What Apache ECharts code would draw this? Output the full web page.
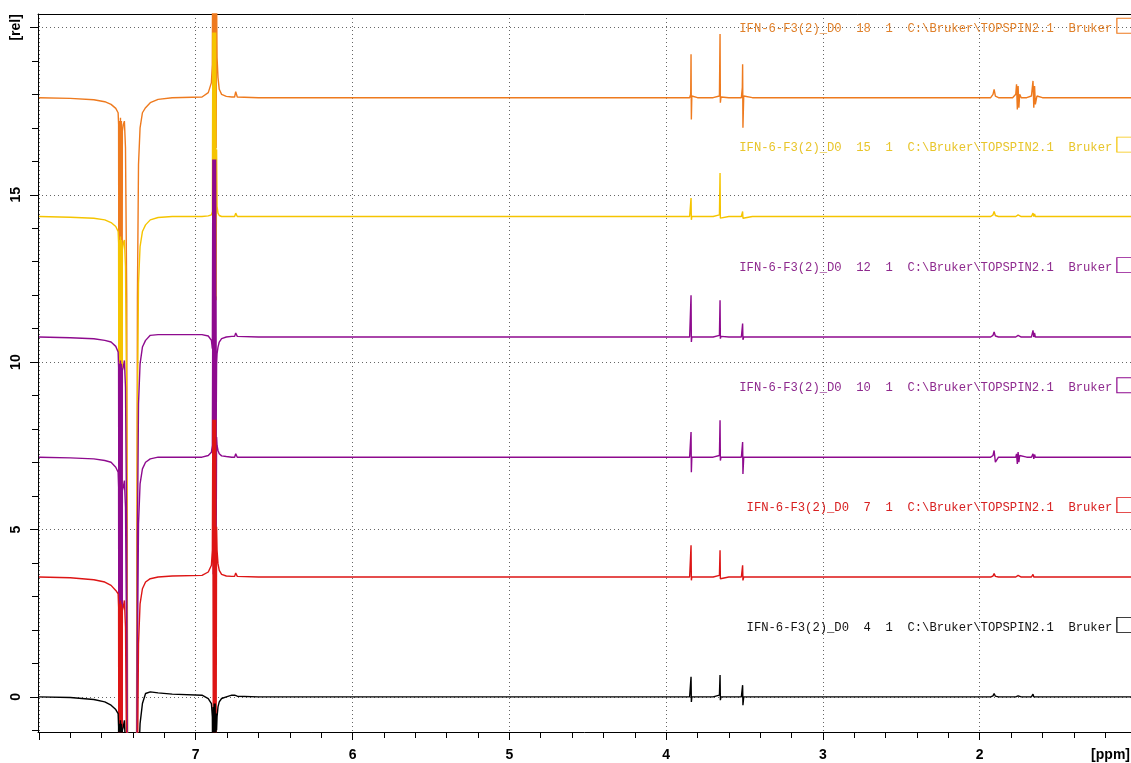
<!DOCTYPE html>
<html>
<head>
<meta charset="utf-8">
<title>IFN-6-F3(2) spectra</title>
<script src="https://cdn.jsdelivr.net/npm/echarts@6.0.0/dist/echarts.min.js"></script>
<style>
  html, body { margin: 0; padding: 0; background: #fff; }
  #chart { width: 1131px; height: 763px; }
</style>
</head>
<body>
<div id="chart"></div>
<script>
// chemical shift positions (ppm), shared by all spectra
const ppm = [
  8.00, 7.80, 7.65, 7.58, 7.54, 7.51, 7.495,
  7.492, 7.489, 7.486, 7.483, 7.480, 7.477, 7.474, 7.471, 7.468,
  7.462, 7.455, 7.448, 7.440, 7.432, 7.380, 7.372, 7.365, 7.355, 7.340, 7.320, 7.290, 7.240, 7.150,
  6.960, 6.920, 6.900, 6.894, 6.891, 6.888, 6.885, 6.882, 6.879, 6.876, 6.873, 6.870, 6.867, 6.864, 6.858, 6.850, 6.835, 6.805, 6.770,
  6.752, 6.745, 6.735, 6.600, 5.500, 4.500, 3.900,
  3.850, 3.843, 3.841, 3.839, 3.836, 3.800, 3.700, 3.660, 3.656, 3.654, 3.650, 3.600, 3.520, 3.514, 3.512, 3.510, 3.505, 3.450, 3.000, 2.000,
  1.930, 1.915, 1.908, 1.900, 1.880, 1.790, 1.770, 1.765, 1.760, 1.755, 1.750, 1.745, 1.735, 1.700, 1.670, 1.660, 1.655, 1.650, 1.645, 1.635, 1.600, 1.000
];

// intensities relative to each spectrum's own baseline
const spec18 = [
  0, -0.02, -0.06, -0.12, -0.2, -0.32, -0.45,
  -0.8, -12, -0.7, -12, -0.6, -12, -0.7, -12, -1.0,
  -0.8, -0.7, -1.5, -6, -25, -25, -6, -2, -0.9, -0.45, -0.3, -0.15, -0.05, 0,
  0.02, 0.15, 0.45, 1.0, 6, -2, 6, -2, 6, -2, 6, -1.5, 3, 1.2, 0.6, 0.25, 0.1, 0.04, 0.02,
  0.02, 0.18, 0.02, 0, 0, 0, 0,
  0, 0.1, 1.3, -0.65, 0.05, 0, 0, 0.05, 1.9, -0.15, 0.02, 0, 0, 0.3, 1.0, -0.9, 0.05, 0, 0, 0,
  0, 0.1, 0.25, 0.05, 0, 0, 0.1, 0.4, -0.35, 0.35, -0.3, 0.1, 0, 0, 0.05, 0.5, -0.3, 0.35, -0.2, 0.05, 0, 0
];
const spec15 = [
  0, -0.02, -0.05, -0.1, -0.18, -0.3, -0.45,
  -0.8, -12, -0.7, -12, -0.6, -12, -0.7, -12, -1.0,
  -0.8, -0.7, -1.5, -6, -25, -25, -6, -2, -0.9, -0.45, -0.25, -0.1, -0.03, 0,
  0, 0.02, 0.05, 0.15, 5.5, -2.5, 5.5, -3, 5.5, -3, 5.5, -2.5, 2, 0.3, 0.1, 0.03, 0, 0, 0,
  0, 0.1, 0, 0, 0, 0, 0,
  0, 0.05, 0.55, -0.1, 0, 0, 0, 0.05, 1.3, -0.05, 0, 0, 0, 0.05, 0.15, -0.05, 0, 0, 0, 0,
  0, 0.05, 0.15, 0.03, 0, 0, 0, 0.05, 0, 0.05, 0, 0, 0, 0, 0, 0.1, 0, 0.08, 0, 0, 0, 0
];
const spec12 = [
  0, -0.02, -0.05, -0.1, -0.15, -0.28, -0.45,
  -0.9, -12, -0.8, -12, -0.7, -12, -0.8, -12, -1.0,
  -0.9, -0.7, -1.5, -6, -25, -25, -6, -2, -0.8, -0.3, -0.1, 0.05, 0.07, 0.07,
  0.07, 0.03, -0.1, -0.35, 5.3, -3, 5.3, -4, 5.3, -4, 5.3, -3, -0.8, -0.5, -0.3, -0.15, -0.05, 0, 0.02,
  0.02, 0.12, 0.02, 0, 0, 0, 0,
  0, 0.05, 1.25, -0.15, 0, 0, 0, 0.05, 1.1, -0.05, 0.02, 0, 0, 0.05, 0.4, -0.08, 0, 0, 0, 0,
  0, 0.05, 0.15, 0.03, 0, 0, 0, 0.05, 0, 0.05, 0, 0, 0, 0, 0, 0.2, 0, 0.12, 0, 0, 0, 0
];
const spec10 = [
  0, -0.02, -0.05, -0.1, -0.15, -0.3, -0.45,
  -0.9, -12, -0.8, -12, -0.7, -12, -0.8, -12, -1.0,
  -0.9, -0.7, -1.5, -6, -25, -25, -6, -2, -0.8, -0.35, -0.15, -0.05, 0, 0,
  0, 0.05, 0.15, 0.35, 4.8, -3.5, 4.8, -4, 4.8, -4, 4.8, -3, 0.6, 0.35, 0.2, 0.1, 0.04, 0.02, 0,
  0, 0.1, 0, 0, 0, 0, 0,
  0, 0.05, 0.75, -0.45, 0, 0, 0, 0.05, 1.1, -0.1, 0, 0, 0, 0.05, 0.45, -0.5, 0, 0, 0, 0,
  0, 0.05, 0.2, -0.15, 0, 0, 0, 0.1, -0.2, 0.15, -0.15, 0.05, 0, 0, 0, 0.1, -0.05, 0.08, 0, 0, 0, 0
];
const spec7 = [
  0, -0.02, -0.08, -0.15, -0.25, -0.4, -0.5,
  -0.9, -12, -0.8, -12, -0.7, -12, -0.8, -12, -1.0,
  -0.9, -0.7, -1.5, -6, -25, -25, -6, -2, -0.8, -0.35, -0.15, -0.05, 0, 0.03,
  0.05, 0.15, 0.35, 0.8, 4.7, -4.8, 4.7, -5, 4.7, -5, 4.7, -4.8, 1.5, 0.8, 0.4, 0.2, 0.08, 0.03, 0.02,
  0.02, 0.12, 0.02, 0, 0, 0, 0,
  0, 0.05, 0.95, -0.1, 0, 0, 0, 0.05, 0.8, -0.05, 0, 0, 0, 0.05, 0.35, -0.1, 0, 0, 0, 0,
  0, 0.03, 0.1, 0.02, 0, 0, 0, 0.03, 0, 0.05, 0, 0, 0, 0, 0, 0.08, 0, 0.05, 0, 0, 0, 0
];
const spec4 = [
  0, -0.02, -0.08, -0.15, -0.25, -0.38, -0.5,
  -0.9, -12, -0.8, -12, -0.7, -12, -0.8, -12, -1.0,
  -0.9, -0.7, -1.5, -6, -25, -25, -6, -2, -0.8, -0.2, 0.1, 0.15, 0.12, 0.08,
  0.05, -0.05, -0.2, -0.6, -3, -0.3, -3, -0.2, -3, -0.2, -3, -0.5, -1.0, -0.6, -0.3, -0.15, -0.05, 0, 0.05,
  0.05, 0.1, 0.02, 0, 0, 0, 0,
  0, 0.05, 0.6, -0.15, 0, 0, 0, 0.05, 0.65, -0.1, 0, 0, 0, 0.05, 0.35, -0.25, 0, 0, 0, 0,
  0, 0.03, 0.1, 0.02, 0, 0, 0, 0.03, 0.05, 0.03, 0, 0, 0, 0, 0, 0.08, 0, 0.05, 0, 0, 0, 0
];

// stacking offsets (rel) and experiment numbers, top spectrum first
const baselines = [17.9, 14.35, 10.75, 7.16, 3.58, 0];
const expNumbers = ['18', '15', '12', '10', '7', '4'];
const spectra = [spec18, spec15, spec12, spec10, spec7, spec4];

// tick values
const xMajorTicks = [2, 3, 4, 5, 6, 7, 8];
const xLabelTicks = [2, 3, 4, 5, 6, 7];
const xMinorTicks = [1.2, 1.4, 1.6, 1.8, 2.2, 2.4, 2.6, 2.8, 3.2, 3.4, 3.6, 3.8, 4.2, 4.4, 4.6, 4.8,
                     5.2, 5.4, 5.6, 5.8, 6.2, 6.4, 6.6, 6.8, 7.2, 7.4, 7.6, 7.8];
const yMajorTicks = [0, 5, 10, 15, 20];
const yMinorTicks = [-1, 1, 2, 3, 4, 6, 7, 8, 9, 11, 12, 13, 14, 16, 17, 18, 19];

const lineColors = ['#ee7a1e', '#f5c400', '#8e0a8e', '#8e0a8e', '#dd1515', '#000000'];
const textColors = ['#e0802a', '#e8c52a', '#8e2a8e', '#8e2a8e', '#d82020', '#111111'];

var myChart = echarts.init(document.getElementById('chart'));

const seriesList = [];
spectra.forEach(function (spec, k) {
    seriesList.push({
        type: 'line',
        name: expNumbers[k],
        xAxisIndex: 0,
        yAxisIndex: 0,
        data: ppm.map(function (x, i) { return [x, spec[i] + baselines[k]]; }),
        showSymbol: false,
        symbol: 'none',
        lineStyle: { width: 1.4, color: lineColors[k] },
        itemStyle: { color: lineColors[k] },
        markPoint: {
            silent: true,
            symbol: 'rect',
            symbolSize: [22, 15],
            itemStyle: { color: 'rgba(0,0,0,0)', borderColor: lineColors[k], borderWidth: 1 },
            label: {
                show: true,
                position: 'left',
                distance: 4,
                offset: [0, 3],
                color: textColors[k],
                fontFamily: '"Liberation Mono", "Courier New", monospace',
                fontSize: 12.2,
                formatter: 'IFN-6-F3(2)_D0  ' + expNumbers[k] + '  1  C:\\Bruker\\TOPSPIN2.1  Bruker'
            },
            data: [{ coord: [1.055, baselines[k] + 2.15] }]
        }
    });
});

const gridLine = { show: true, lineStyle: { type: [1, 3], color: '#666', width: 1 } };
const axisFont = { fontWeight: 'bold', fontSize: 14, color: '#000', fontFamily: '"Liberation Sans", Arial, sans-serif' };
const xMin = 1.035, xMax = 8.006;
const yMin = -1.05, yMax = 20.4;

option = {
    animation: false,
    backgroundColor: '#fff',
    grid: { left: 38, right: 0, top: 14, bottom: 31 },
    xAxis: [
        {
            type: 'value',
            inverse: true,
            min: xMin,
            max: xMax,
            position: 'bottom',
            axisLine: { show: true, onZero: false, lineStyle: { color: '#000' } },
            axisTick: { show: true, length: 8, customValues: xMajorTicks, lineStyle: { color: '#000' } },
            axisLabel: Object.assign({ margin: 16, customValues: xLabelTicks }, axisFont),
            splitLine: gridLine
        },
        {
            type: 'value',
            inverse: true,
            min: xMin,
            max: xMax,
            position: 'bottom',
            axisLine: { show: false, onZero: false },
            axisTick: { show: true, length: 6, customValues: xMinorTicks, lineStyle: { color: '#000' } },
            axisLabel: { show: false },
            splitLine: { show: false }
        },
        {
            type: 'value',
            inverse: true,
            min: xMin,
            max: xMax,
            position: 'top',
            axisLine: { show: true, onZero: false, lineStyle: { color: '#000' } },
            axisTick: { show: false },
            axisLabel: { show: false },
            splitLine: { show: false }
        }
    ],
    yAxis: [
        {
            type: 'value',
            min: yMin,
            max: yMax,
            position: 'left',
            axisLine: { show: true, onZero: false, lineStyle: { color: '#000' } },
            axisTick: { show: true, length: 6, customValues: yMinorTicks, lineStyle: { color: '#000' } },
            axisLabel: { show: false },
            splitLine: { show: false }
        },
        {
            type: 'value',
            min: yMin,
            max: yMax,
            position: 'left',
            axisLine: { show: false, onZero: false },
            axisTick: { show: true, length: 8, customValues: yMajorTicks, lineStyle: { color: '#000' } },
            axisLabel: Object.assign({
                rotate: 90,
                margin: 15,
                customValues: yMajorTicks,
                formatter: function (v) { return v === 20 ? '[rel]' : String(v); }
            }, axisFont),
            splitLine: gridLine
        }
    ],
    graphic: [{
        type: 'text',
        right: 1,
        top: 748,
        style: { text: '[ppm]', fill: '#000', font: 'bold 14px "Liberation Sans", Arial, sans-serif' }
    }],
    series: seriesList
};
myChart.setOption(option);
</script>
</body>
</html>
